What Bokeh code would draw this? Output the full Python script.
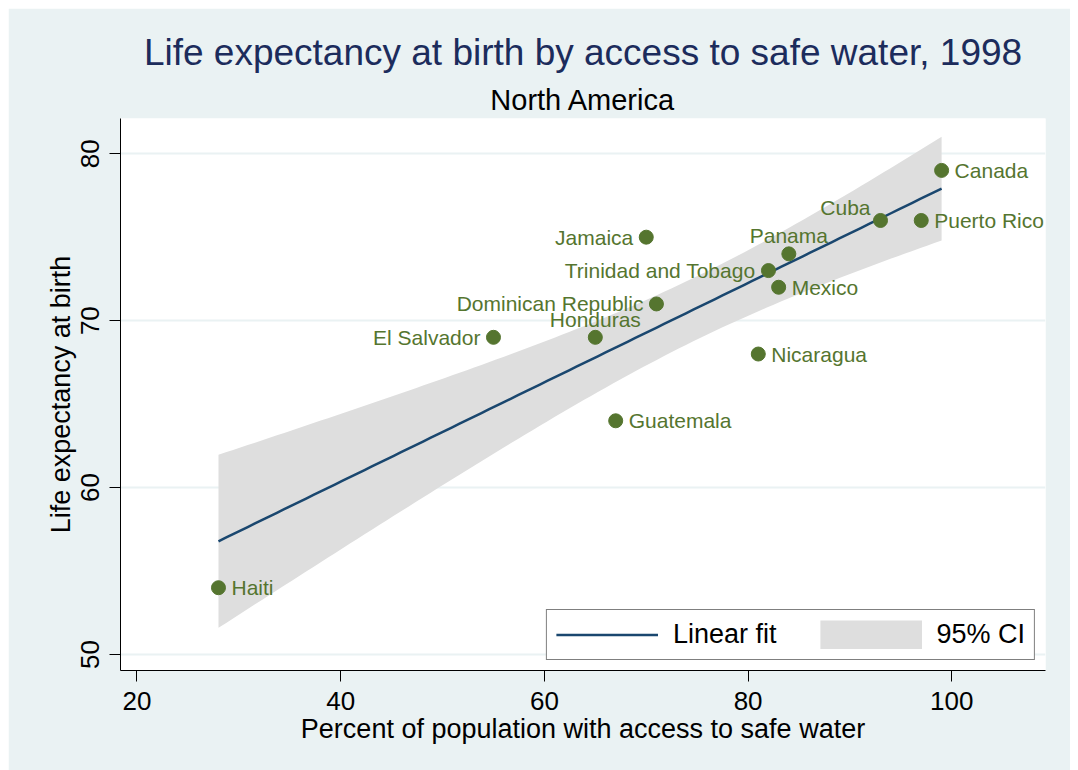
import numpy as np
from bokeh.plotting import figure
from bokeh.models import Range1d, Title, Legend, LegendItem, ColumnDataSource
from bokeh.core.properties import value
from bokeh.embed import file_html
from bokeh.resources import INLINE

# ---------------- data ----------------
countries = ["Haiti", "El Salvador", "Honduras", "Guatemala", "Jamaica",
             "Dominican Republic", "Nicaragua", "Trinidad and Tobago", "Mexico",
             "Panama", "Cuba", "Puerto Rico", "Canada"]
water = [28, 55, 65, 67, 70, 71, 81, 82, 83, 84, 93, 97, 99]
lifeexp = [54, 69, 69, 64, 75, 71, 68, 73, 72, 74, 76, 76, 79]
x_ticks = [20, 40, 60, 80, 100]
y_ticks = [50, 60, 70, 80]

title_text = "Life expectancy at birth by access to safe water, 1998"
subtitle_text = "North America"
x_title = "Percent of population with access to safe water"
y_title = "Life expectancy at birth"
legend_labels = ["Linear fit", "95% CI"]

# ---------------- style ----------------
FONT = "Liberation Sans"
BG = "#EAF2F3"
NAVY = "#1A476F"
GREEN = "#55752F"
CI_GRAY = "#DEDEDE"
TITLE_COLOR = "#1C2C5C"

# marker label clock positions (Stata mlabvposition)
label_clock = {"Haiti": 3, "El Salvador": 9, "Honduras": 12, "Guatemala": 3,
               "Jamaica": 9, "Dominican Republic": 9, "Nicaragua": 3,
               "Trinidad and Tobago": 9, "Mexico": 3, "Panama": 12, "Cuba": 11,
               "Puerto Rico": 3, "Canada": 3}
clock_style = {3: ("left", 13, 0), 9: ("right", -13, 0),
               12: ("center", 0, -18), 11: ("right", -10, -13)}

X0, X1 = 18.38, 109.2
Y0, Y1 = 49.04, 82.11

# ---------------- linear fit with 95% CI (lfitci, stdp) ----------------
xa = np.array(water, float)
ya = np.array(lifeexp, float)
n = len(xa)
b1, b0 = np.polyfit(xa, ya, 1)
resid = ya - (b0 + b1 * xa)
s = np.sqrt((resid ** 2).sum() / (n - 2))
sxx = ((xa - xa.mean()) ** 2).sum()
t975 = 2.200985  # t(0.975, 11)
xf = np.linspace(xa.min(), xa.max(), 100)
yf = b0 + b1 * xf
se = s * np.sqrt(1.0 / n + (xf - xa.mean()) ** 2 / sxx)
lo = yf - t975 * se
hi = yf + t975 * se

# ---------------- figure ----------------
p = figure(width=1062, height=762, x_range=Range1d(X0, X1), y_range=Range1d(Y0, Y1),
           output_backend="svg", toolbar_location=None, title=None,
           min_border_left=112, min_border_right=25, min_border_top=110,
           min_border_bottom=100, background_fill_color="white",
           border_fill_color=BG, outline_line_color=None)
p.margin = (8, 0, 0, 8)

band = p.varea(x=xf, y1=lo, y2=hi, fill_color=CI_GRAY, fill_alpha=1)
fit = p.line(xf, yf, line_color=NAVY, line_width=2.5)
# legend swatch for the CI band (draws nothing in the plot: y is NaN)
ci_swatch = p.line(x=xf, y=np.full_like(xf, np.nan), line_color=CI_GRAY,
                   line_width=29)

src = ColumnDataSource(dict(x=water, y=lifeexp, name=countries))
p.scatter(x="x", y="y", source=src, size=14, fill_color=GREEN, line_color=GREEN)

for clock, (align, xo, yo) in clock_style.items():
    idx = [i for i, c in enumerate(countries) if label_clock[c] == clock]
    s_ = ColumnDataSource(dict(x=[water[i] for i in idx], y=[lifeexp[i] for i in idx],
                               name=[countries[i] for i in idx]))
    p.text(x="x", y="y", text="name", source=s_, text_align=align,
           text_baseline="alphabetic", x_offset=xo, y_offset=yo,
           text_font=value(FONT), text_font_size="21px", text_color=GREEN)

# axes
for ax in (p.xaxis[0], p.yaxis[0]):
    ax.axis_line_color = "black"
    ax.axis_line_width = 1
    ax.major_tick_in = 0
    ax.major_tick_out = 11
    ax.minor_tick_line_color = None
    ax.major_tick_line_color = "black"
    ax.major_label_text_font = FONT
    ax.major_label_text_font_size = "26px"
    ax.major_label_text_color = "black"
    ax.axis_label_text_font = FONT
    ax.axis_label_text_font_size = "27px"
    ax.axis_label_text_font_style = "normal"
    ax.axis_label_text_color = "black"

p.xaxis.ticker = x_ticks
p.yaxis.ticker = y_ticks
p.xaxis.axis_label = x_title
p.yaxis.axis_label = y_title
p.xaxis.major_label_standoff = 10
p.xaxis.axis_label_standoff = 1
p.yaxis.major_label_orientation = "vertical"
p.yaxis.major_label_standoff = 10
p.yaxis.axis_label_standoff = 3

p.xgrid.visible = False
p.ygrid.ticker = y_ticks
p.ygrid.grid_line_color = BG
p.ygrid.grid_line_width = 2

# legend
legend = Legend(items=[LegendItem(label=legend_labels[0], renderers=[fit]),
                       LegendItem(label=legend_labels[1], renderers=[ci_swatch])],
                location="bottom_right", orientation="horizontal",
                glyph_width=102, glyph_height=29, label_standoff=15, spacing=43,
                padding=9, margin=10, border_line_color="black", border_line_width=1,
                background_fill_color="white", background_fill_alpha=1,
                label_text_font=FONT, label_text_font_size="27px",
                label_text_color="black")
p.add_layout(legend)

# titles (first added sits nearest the frame)
p.add_layout(Title(text=subtitle_text, align="center", text_font=FONT,
                   text_font_size="29px", text_font_style="normal",
                   text_color="black", standoff=6), "above")
p.add_layout(Title(text=title_text, align="center", text_font=FONT,
                   text_font_size="37px", text_font_style="normal",
                   text_color=TITLE_COLOR, standoff=12), "above")

open("out.html", "w").write(file_html(p, INLINE))
